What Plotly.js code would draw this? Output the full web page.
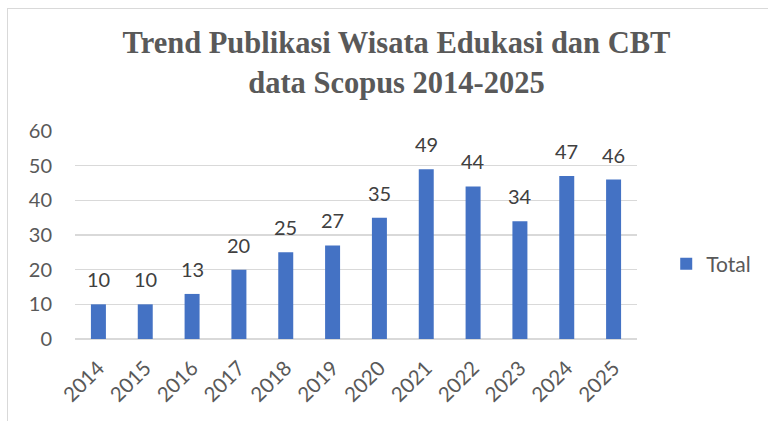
<!DOCTYPE html>
<html><head><meta charset="utf-8">
<script src="https://cdn.plot.ly/plotly-3.0.1.min.js"></script>
<style>
html,body{margin:0;padding:0;background:#fff;overflow:hidden;}
#chart{width:768px;height:421px;position:absolute;left:0;top:0;}
#frame{position:absolute;left:7px;top:8px;width:800px;height:450px;border-top:1px solid #d9d9d9;border-left:1px solid #d9d9d9;pointer-events:none;}
</style></head>
<body>
<div id="chart"></div>
<div id="frame"></div>
<script>
const years = ['2014','2015','2016','2017','2018','2019','2020','2021','2022','2023','2024','2025'];
const totals = [10,10,13,20,25,27,35,49,44,34,47,46];
const seriesName = 'Total';
const yTicks = [0,10,20,30,40,50,60];

const FONT = 'Lato, "Open Sans", sans-serif';
const trace = {
  type:'bar', x:years, y:totals, name:seriesName,
  marker:{color:'#4472C4'},
  showlegend:true
};
// data labels: category index on the category axis, value on y
const labels = years.map((yr,i)=>({
  x:i, y:totals[i], xref:'x', yref:'y', text:String(totals[i]),
  showarrow:false, yanchor:'bottom', yshift:11,
  font:{family:FONT, size:20, color:'#404040'}
}));
const layout = {
  width:768, height:421,
  margin:{l:75, r:125, t:131, b:82},
  paper_bgcolor:'#fff', plot_bgcolor:'#fff',
  bargap:0.68,
  annotations:labels,
  title:{text:'Trend Publikasi Wisata Edukasi dan CBT<br>data Scopus 2014-2025',
    font:{family:'"Liberation Serif", "DejaVu Serif", serif', size:30.5, color:'#595959', weight:'bold'},
    x:396.5/768, xanchor:'center', xref:'container', y:1-53/421, yanchor:'middle', yref:'container'},
  xaxis:{type:'category', categoryarray:years, categoryorder:'array', tickangle:-45, showgrid:false, showline:false, zeroline:false,
    tickfont:{family:FONT, size:20.5, color:'#595959'}, ticks:'outside', ticklen:8, tickcolor:'rgba(0,0,0,0)'},
  yaxis:{range:[0,60], tickvals:yTicks, showgrid:true, gridcolor:'#d9d9d9', gridwidth:1.5,
    zeroline:true, zerolinecolor:'#d9d9d9', zerolinewidth:1.5, showline:false,
    ticks:'outside', ticklen:18, tickcolor:'rgba(0,0,0,0)',
    tickfont:{family:FONT, size:20, color:'#595959'}},
  legend:{x:1.052, xanchor:'left', y:0.36, yanchor:'middle',
    font:{family:FONT, size:21, color:'#595959'}}
};
Plotly.newPlot('chart',[trace],layout,{displayModeBar:false, staticPlot:true});
</script>
</body></html>
